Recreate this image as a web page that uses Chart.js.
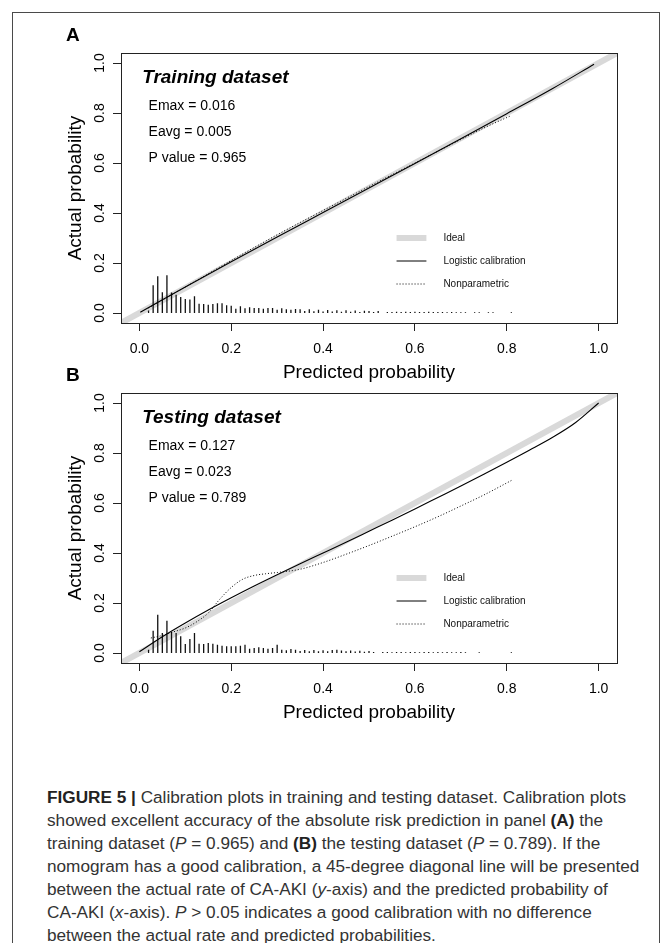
<!DOCTYPE html>
<html>
<head>
<meta charset="utf-8">
<script src="https://cdn.jsdelivr.net/npm/chart.js@4/dist/chart.umd.min.js"></script>
<style>
html,body{margin:0;padding:0;background:#fff;}
body{width:671px;height:943px;position:relative;overflow:hidden;font-family:"Liberation Sans",Arial,sans-serif;}
#frame{position:absolute;left:12px;top:12px;width:648px;height:1000px;border:1.5px solid #4a4a4a;box-sizing:border-box;}
.panel{position:absolute;left:0;width:671px;height:385px;}
#caption{position:absolute;left:47px;top:786px;font-size:17.2px;line-height:23px;color:#333;white-space:nowrap;}
#caption b{color:#222;}
</style>
</head>
<body>
<div id="frame"></div>
<div class="panel" style="top:0px"><canvas id="cA" width="671" height="385"></canvas></div>
<div class="panel" style="top:340px"><canvas id="cB" width="671" height="385"></canvas></div>
<div id="caption">
<b>FIGURE 5 |</b> Calibration plots in training and testing dataset. Calibration plots<br>
showed excellent accuracy of the absolute risk prediction in panel <b>(A)</b> the<br>
training dataset (<i>P</i> = 0.965) and <b>(B)</b> the testing dataset (<i>P</i> = 0.789). If the<br>
nomogram has a good calibration, a 45-degree diagonal line will be presented<br>
between the actual rate of CA-AKI (<i>y</i>-axis) and the predicted probability of<br>
CA-AKI (<i>x</i>-axis). <i>P</i> &gt; 0.05 indicates a good calibration with no difference<br>
between the actual rate and predicted probabilities.
</div>
<script>
// ---------------- data ----------------
const axisTicks = [0, 0.2, 0.4, 0.6, 0.8, 1.0];
const idealX = [-0.04, 1.04];
const idealY = [-0.04, 1.04];
const legendLabels = ['Ideal', 'Logistic calibration', 'Nonparametric'];

// Training dataset (panel A)
const trainTitle = 'Training dataset';
const trainStats = ['Emax = 0.016', 'Eavg = 0.005', 'P value = 0.965'];
const trainLogX = [0.002, 0.1, 0.2, 0.3, 0.4, 0.5, 0.6, 0.7, 0.8, 0.9, 0.99];
const trainLogY = [0.003, 0.104, 0.205, 0.304, 0.402, 0.5, 0.598, 0.697, 0.797, 0.898, 0.995];
const trainNpX = [0.02, 0.05, 0.1, 0.15, 0.2, 0.25, 0.3, 0.35, 0.4, 0.5, 0.6, 0.7, 0.75, 0.81];
const trainNpY = [0.02, 0.052, 0.104, 0.157, 0.21, 0.262, 0.313, 0.362, 0.41, 0.506, 0.6, 0.694, 0.74, 0.79];
const trainRugX = [0.02,0.03,0.04,0.05,0.06,0.07,0.08,0.09,0.10,0.11,0.12,0.13,0.14,0.15,0.16,0.17,0.18,0.19,0.20,
  0.21,0.22,0.23,0.24,0.25,0.26,0.27,0.28,0.29,0.30,0.31,0.32,0.33,0.34,0.35,0.36,0.37,0.38,0.39,0.40,
  0.41,0.42,0.43,0.44,0.45,0.46,0.47,0.48,0.49,0.50,0.51,0.52,
  0.54,0.55,0.56,0.57,0.58,0.59,0.60,0.61,0.62,0.63,0.64,0.65,0.66,0.67,0.68,0.69,0.70,0.71,
  0.73,0.74,0.76,0.77,0.81];
const trainRugH = [0.010,0.111,0.147,0.083,0.151,0.082,0.073,0.064,0.056,0.054,0.067,0.037,0.036,0.033,0.036,0.039,0.039,0.031,0.029,
  0.017,0.027,0.019,0.023,0.020,0.020,0.017,0.020,0.020,0.013,0.019,0.015,0.013,0.016,0.015,0.008,0.015,0.007,0.013,0.006,
  0.012,0.006,0.011,0.005,0.011,0.005,0.010,0.004,0.009,0.008,0.004,0.008,
  0.004,0.004,0.005,0.004,0.005,0.004,0.005,0.004,0.004,0.005,0.004,0.004,0.004,0.003,0.004,0.003,0.003,0.003,
  0.003,0.003,0.003,0.003,0.003];

// Testing dataset (panel B)
const testTitle = 'Testing dataset';
const testStats = ['Emax = 0.127', 'Eavg = 0.023', 'P value = 0.789'];
const testLogX = [0, 0.05, 0.1, 0.15, 0.2, 0.25, 0.3, 0.35, 0.4, 0.45, 0.5, 0.55, 0.6, 0.65, 0.7, 0.75, 0.8, 0.85, 0.9, 0.95, 1.0];
const testLogY = [0.005, 0.065, 0.12, 0.172, 0.221, 0.268, 0.313, 0.357, 0.4, 0.443, 0.487, 0.531, 0.576, 0.622, 0.668, 0.715, 0.763, 0.812, 0.863, 0.922, 1.0];
const testNpX = [0.025, 0.05, 0.075, 0.1, 0.125, 0.15, 0.175, 0.2, 0.225, 0.25, 0.275, 0.3, 0.35, 0.4, 0.45, 0.5, 0.55, 0.6, 0.65, 0.7, 0.75, 0.81];
const testNpY = [0.06, 0.07, 0.085, 0.1, 0.125, 0.16, 0.215, 0.262, 0.295, 0.31, 0.317, 0.322, 0.335, 0.362, 0.395, 0.43, 0.467, 0.505, 0.545, 0.588, 0.632, 0.69];
const testRugX = [0.02,0.03,0.04,0.05,0.06,0.07,0.08,0.09,0.10,0.11,0.12,0.13,0.14,0.15,0.16,0.17,0.18,0.19,0.20,
  0.21,0.22,0.23,0.24,0.25,0.26,0.27,0.28,0.29,0.30,0.31,0.32,0.33,0.34,0.35,0.36,0.37,0.38,0.39,0.40,
  0.41,0.42,0.43,0.44,0.45,0.46,0.47,0.48,0.49,0.50,0.51,
  0.53,0.54,0.55,0.56,0.57,0.58,0.59,0.60,0.61,0.62,0.63,0.64,0.65,0.66,0.67,0.68,0.69,0.70,0.71,
  0.74,0.81];
const testRugH = [0.013,0.089,0.153,0.080,0.129,0.084,0.080,0.067,0.036,0.056,0.080,0.037,0.036,0.040,0.037,0.033,0.029,0.027,0.027,
  0.027,0.029,0.033,0.017,0.020,0.023,0.020,0.017,0.020,0.033,0.013,0.011,0.016,0.013,0.008,0.012,0.007,0.012,0.007,0.011,
  0.007,0.012,0.013,0.010,0.007,0.010,0.006,0.009,0.005,0.008,0.004,
  0.004,0.004,0.003,0.004,0.004,0.003,0.004,0.004,0.003,0.004,0.004,0.003,0.004,0.003,0.004,0.003,0.003,0.004,0.003,
  0.003,0.003];

// ---------------- layout constants ----------------
const FONT = '"Liberation Sans", Arial, Helvetica, sans-serif';
const AXIS_MIN = -0.04, AXIS_MAX = 1.04;
const LEG = {lineX0: 0.56, lineX1: 0.625, textX: 0.662, rowsY: [0.30, 0.208, 0.116]};
const ANN = {titleX: 0.006, titleY: 0.94, statX: 0.02, statsY: [0.828, 0.724, 0.62]};

function pts(xs, ys){ return xs.map((x, i) => ({x: x, y: ys[i]})); }
function rugPts(xs, hs){
  const out = [];
  xs.forEach((x, i) => { out.push({x: x, y: 0}); out.push({x: x, y: hs[i]}); out.push({x: x, y: null}); });
  return out;
}

function decoPlugin(letter, title, stats){
  return {
    id: 'deco' + letter,
    afterDraw(chart){
      const ctx = chart.ctx, ca = chart.chartArea;
      const xs = chart.scales.x, ys = chart.scales.y;
      ctx.save();
      // box
      ctx.strokeStyle = '#222'; ctx.lineWidth = 1;
      ctx.strokeRect(Math.round(ca.left) + 0.5, Math.round(ca.top) + 0.5,
                     Math.round(ca.right - ca.left), Math.round(ca.bottom - ca.top));
      // rotated y tick labels
      ctx.fillStyle = '#000'; ctx.font = '14px ' + FONT;
      ctx.textAlign = 'center'; ctx.textBaseline = 'middle';
      axisTicks.forEach(v => {
        const py = ys.getPixelForValue(v);
        ctx.save(); ctx.translate(ca.left - 21, py); ctx.rotate(-Math.PI / 2);
        ctx.fillText(v.toFixed(1), 0, 0); ctx.restore();
      });
      // panel letter
      ctx.font = 'bold 19px ' + FONT; ctx.textAlign = 'left'; ctx.textBaseline = 'middle';
      ctx.fillText(letter, 66, 36);
      // annotations
      ctx.font = 'italic bold 19px ' + FONT;
      ctx.fillText(title, xs.getPixelForValue(ANN.titleX), ys.getPixelForValue(ANN.titleY));
      ctx.font = '14px ' + FONT;
      stats.forEach((s, i) => ctx.fillText(s, xs.getPixelForValue(ANN.statX), ys.getPixelForValue(ANN.statsY[i])));
      // legend
      const lx0 = xs.getPixelForValue(LEG.lineX0), lx1 = xs.getPixelForValue(LEG.lineX1), tx = xs.getPixelForValue(LEG.textX);
      ctx.font = '10px ' + FONT; ctx.fillStyle = '#111';
      legendLabels.forEach((lab, i) => {
        const py = ys.getPixelForValue(LEG.rowsY[i]);
        ctx.save();
        ctx.beginPath(); ctx.moveTo(lx0, py); ctx.lineTo(lx1, py);
        if (i === 0) { ctx.strokeStyle = '#d9d9d9'; ctx.lineWidth = 6; }
        else if (i === 1) { ctx.strokeStyle = '#000'; ctx.lineWidth = 1; }
        else { ctx.strokeStyle = '#000'; ctx.lineWidth = 1; ctx.setLineDash([1, 2]); }
        ctx.stroke(); ctx.restore();
        ctx.fillText(lab, tx, py);
      });
      ctx.restore();
    }
  };
}

function makePanel(id, letter, title, stats, logX, logY, npX, npY, rugX, rugH){
  const tickCb = v => Number(v).toFixed(1);
  return new Chart(document.getElementById(id), {
    type: 'scatter',
    data: {
      datasets: [
        {label: 'Logistic calibration', data: pts(logX, logY), showLine: true, borderColor: '#000', borderWidth: 1.1,
         pointRadius: 0, cubicInterpolationMode: 'monotone', order: 1},
        {label: 'Nonparametric', data: pts(npX, npY), showLine: true, borderColor: '#000', borderWidth: 1,
         borderDash: [1, 2], pointRadius: 0, cubicInterpolationMode: 'monotone', order: 2},
        {label: 'rug', data: rugPts(rugX, rugH), showLine: true, spanGaps: false, borderColor: '#111', borderWidth: 1.3,
         pointRadius: 0, order: 3},
        {label: 'Ideal', data: pts(idealX, idealY), showLine: true, borderColor: '#d9d9d9', borderWidth: 6,
         pointRadius: 0, clip: 0, order: 4}
      ]
    },
    options: {
      responsive: false, animation: false, devicePixelRatio: 1,
      layout: {padding: {left: 0, top: 53, right: 54, bottom: 0}},
      plugins: {legend: {display: false}, tooltip: {enabled: false}},
      scales: {
        x: {
          type: 'linear', min: AXIS_MIN, max: AXIS_MAX, offset: false,
          afterBuildTicks: s => { s.ticks = axisTicks.map(v => ({value: v})); },
          afterFit: s => { s.height = 62; },
          grid: {display: true, drawOnChartArea: false, drawTicks: true, tickLength: 8, tickColor: '#222', offset: false},
          border: {display: false},
          ticks: {font: {size: 14, family: FONT}, color: '#000', padding: 10, maxRotation: 0, autoSkip: false, callback: tickCb},
          title: {display: true, text: 'Predicted probability', color: '#000', font: {size: 19, family: FONT}, padding: {top: 0, bottom: 1}}
        },
        y: {
          type: 'linear', min: AXIS_MIN, max: AXIS_MAX,
          afterBuildTicks: s => { s.ticks = axisTicks.map(v => ({value: v})); },
          afterFit: s => { s.width = 121; },
          grid: {display: true, drawOnChartArea: false, drawTicks: true, tickLength: 8, tickColor: '#222'},
          border: {display: false},
          ticks: {display: false},
          title: {display: true, text: 'Actual probability', color: '#000', font: {size: 19, family: FONT}, padding: {top: 64, bottom: 0}}
        }
      }
    },
    plugins: [decoPlugin(letter, title, stats)]
  });
}

makePanel('cA', 'A', trainTitle, trainStats, trainLogX, trainLogY, trainNpX, trainNpY, trainRugX, trainRugH);
makePanel('cB', 'B', testTitle, testStats, testLogX, testLogY, testNpX, testNpY, testRugX, testRugH);
</script>
</body>
</html>
